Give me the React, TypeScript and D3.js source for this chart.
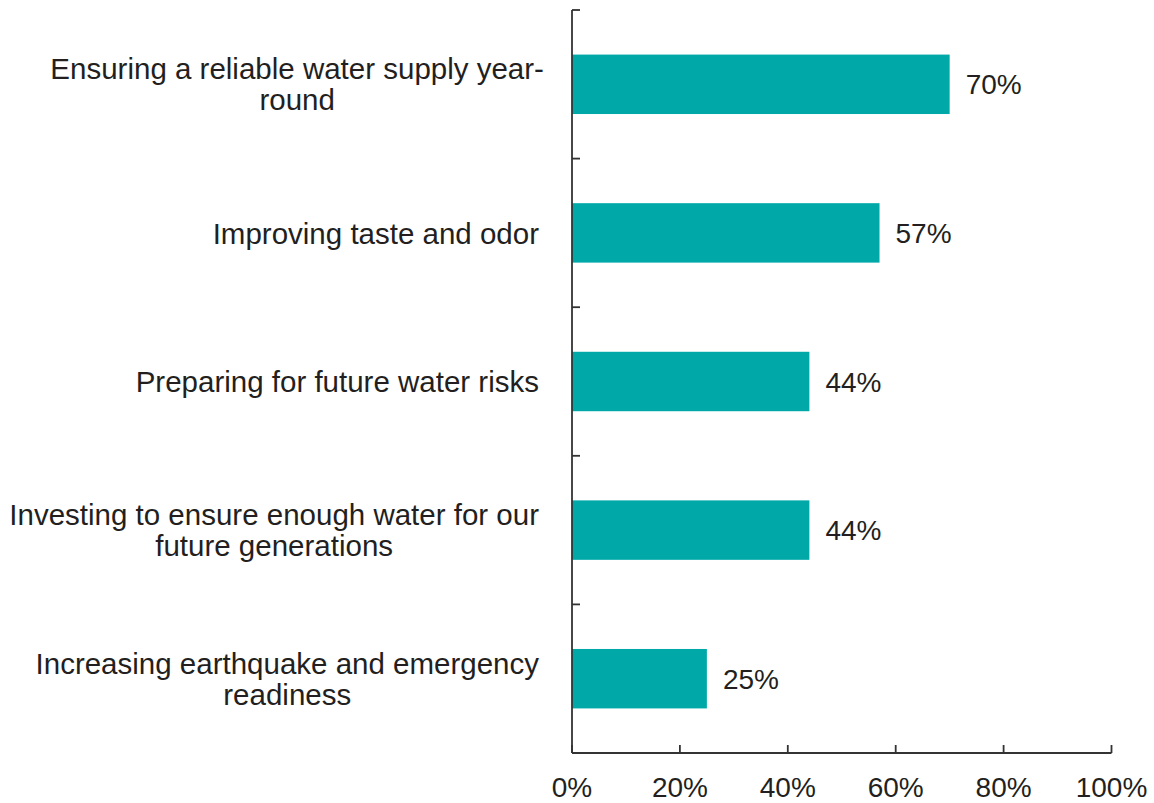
import React, { useEffect, useRef } from "react";
import * as d3 from "d3";

const categories: string[][] = [
  ["Ensuring a reliable water supply year-", "round"],
  ["Improving taste and odor"],
  ["Preparing for future water risks"],
  ["Investing to ensure enough water for our", "future generations"],
  ["Increasing earthquake and emergency", "readiness"],
];
const values: number[] = [70, 57, 44, 44, 25];
const xTicks: number[] = [0, 20, 40, 60, 80, 100];

const W = 1154;
const H = 803;
const M = { left: 572, right: 1111.5, top: 10, bottom: 753 };
const FONT = "Liberation Sans, Arial, sans-serif";
const BAR = "#00A9A8";
const TEXT = "#231F20";
const AXIS = "#333333";

export default function App() {
  const ref = useRef<SVGSVGElement>(null);
  useEffect(() => {
    const svg = d3.select(ref.current);
    svg.selectAll("*").remove();
    const x = d3.scaleLinear().domain([0, 100]).range([M.left, M.right]);
    const idx = categories.map((_, i) => String(i));
    const y = d3.scaleBand().domain(idx).range([M.top, M.bottom]).paddingInner(0.6).paddingOuter(0.3);
    const yb = d3.scaleBand().domain(idx).range([M.top, M.bottom]);

    // bars
    svg.append("g").selectAll("rect").data(values).join("rect")
      .attr("x", x(0))
      .attr("y", (_, i) => y(String(i))!)
      .attr("width", (d) => x(d) - x(0))
      .attr("height", y.bandwidth())
      .attr("fill", BAR);

    // value labels
    svg.append("g").selectAll("text").data(values).join("text")
      .attr("x", (d) => x(d) + 16)
      .attr("y", (_, i) => y(String(i))! + y.bandwidth() / 2)
      .attr("dy", "0.36em")
      .attr("font-family", FONT)
      .attr("font-size", 28)
      .attr("fill", TEXT)
      .text((d) => `${d}%`);

    // y axis
    const ya = svg.append("g");
    ya.append("line").attr("x1", M.left).attr("x2", M.left).attr("y1", M.top).attr("y2", M.bottom)
      .attr("stroke", AXIS).attr("stroke-width", 1.8);
    const bounds = idx.map((k) => yb(k)!).concat([M.bottom]);
    ya.selectAll("line.t").data(bounds).join("line").attr("class", "t")
      .attr("x1", M.left).attr("x2", M.left + 8)
      .attr("y1", (d) => d).attr("y2", (d) => d)
      .attr("stroke", AXIS).attr("stroke-width", 1.8);

    // category labels (block centred, trailing hyphen hangs past the right edge)
    const labelRight = 539;
    categories.forEach((lines, i) => {
      const cy = yb(String(i))! + yb.bandwidth() / 2;
      const g = svg.append("g");
      const lh = 31;
      const texts = lines.map((ln, j) =>
        g.append("text")
          .attr("y", cy + (j - (lines.length - 1) / 2) * lh)
          .attr("dy", "0.36em")
          .attr("text-anchor", "middle")
          .attr("font-family", FONT)
          .attr("font-size", 29.5)
          .attr("fill", TEXT)
          .text(ln)
      );
      const widths = texts.map((t, j) => {
        const node = t.node() as SVGTextElement;
        let w = node.getComputedTextLength();
        if (lines[j].endsWith("-")) {
          w -= node.getSubStringLength(lines[j].length - 1, 1);
        }
        return w;
      });
      const maxW = d3.max(widths) || 0;
      texts.forEach((t) => t.attr("x", labelRight - maxW / 2));
    });

    // x axis
    const xa = svg.append("g");
    xa.append("line").attr("x1", M.left).attr("x2", M.right).attr("y1", M.bottom).attr("y2", M.bottom)
      .attr("stroke", AXIS).attr("stroke-width", 1.8);
    xa.selectAll("line.t").data(xTicks).join("line").attr("class", "t")
      .attr("x1", (d) => x(d)).attr("x2", (d) => x(d))
      .attr("y1", M.bottom).attr("y2", M.bottom - 8)
      .attr("stroke", AXIS).attr("stroke-width", 1.8);
    xa.selectAll("text").data(xTicks).join("text")
      .attr("x", (d) => x(d))
      .attr("y", 787)
      .attr("dy", "0.36em")
      .attr("text-anchor", "middle")
      .attr("font-family", FONT)
      .attr("font-size", 28)
      .attr("fill", TEXT)
      .text((d) => `${d}%`);
  }, []);
  return (
    <svg ref={ref} width={W} height={H} style={{ position: "absolute", left: 0, top: 0, background: "#fff" }} />
  );
}
